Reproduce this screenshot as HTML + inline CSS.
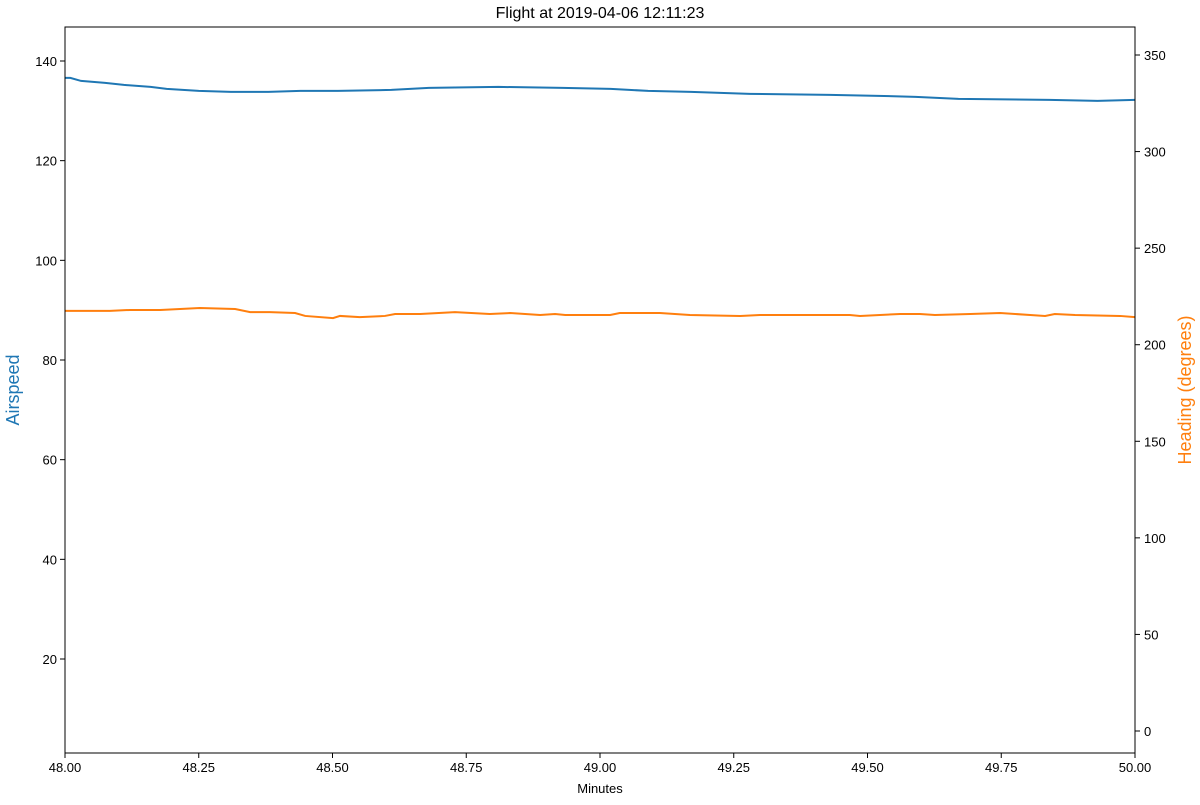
<!DOCTYPE html>
<html><head><meta charset="utf-8"><style>
body{margin:0;background:#fff;font-family:"Liberation Sans",sans-serif}
svg text{font-family:"Liberation Sans",sans-serif}
</style></head><body>
<svg id="chart" width="1200" height="800" xmlns="http://www.w3.org/2000/svg">
<rect width="1200" height="800" fill="#fff"/>
<text x="600" y="18" text-anchor="middle" font-size="16">Flight at 2019-04-06 12:11:23</text>
<g id="grp"></g>
<rect x="65" y="27" width="1070" height="726" fill="none" stroke="#000" stroke-width="1"/>
<text x="600" y="793" text-anchor="middle" font-size="13">Minutes</text>
<text transform="translate(19,390) rotate(-90)" text-anchor="middle" font-size="18" fill="#1f77b4">Airspeed</text>
<text transform="translate(1191,390) rotate(-90)" text-anchor="middle" font-size="18" fill="#ff7f0e">Heading (degrees)</text>
</svg>
<script>
const minutesA=[48.00,48.01,48.03,48.075,48.11,48.16,48.19,48.25,48.31,48.38,48.44,48.51,48.61,48.68,48.81,48.93,49.02,49.09,49.17,49.28,49.43,49.52,49.59,49.67,49.84,49.93,50.00];
const airspeed=[136.6,136.6,136.0,135.6,135.2,134.8,134.4,134.0,133.8,133.8,134.0,134.0,134.2,134.6,134.8,134.6,134.4,134.0,133.8,133.4,133.2,133.0,132.8,132.4,132.2,132.0,132.2];
const minutesH=[48.00,48.084,48.121,48.178,48.252,48.318,48.346,48.383,48.43,48.449,48.501,48.514,48.551,48.598,48.617,48.664,48.729,48.794,48.832,48.888,48.916,48.935,49.019,49.037,49.112,49.168,49.262,49.299,49.374,49.467,49.486,49.561,49.598,49.626,49.692,49.748,49.804,49.832,49.85,49.888,49.972,50.00];
const heading=[217.5,217.5,218.0,218.0,219.0,218.5,216.9,216.9,216.4,214.9,213.8,214.9,214.3,214.9,215.9,215.9,216.9,215.9,216.4,215.4,215.9,215.4,215.4,216.4,216.4,215.4,214.9,215.4,215.4,215.4,214.9,215.9,215.9,215.4,215.9,216.4,215.4,214.9,215.9,215.4,214.9,214.3];
const xTicks=[48.00,48.25,48.50,48.75,49.00,49.25,49.50,49.75,50.00];
const leftTicks=[20,40,60,80,100,120,140];
const rightTicks=[0,50,100,150,200,250,300,350];
const L=65,R=1135,T=27,B=753;
const xs=m=>L+(m-48)/(50-48)*(R-L);
const yL=v=>B-(v-1.14)/(146.82-1.14)*(B-T);
const yR=v=>B-(v+11.39)/(364.5+11.39)*(B-T);
const g=document.getElementById('grp');
const NS='http://www.w3.org/2000/svg';
function mk(t,a){const e=document.createElementNS(NS,t);for(const k in a)e.setAttribute(k,a[k]);g.appendChild(e);return e;}
xTicks.forEach(t=>{const x=xs(t);
 const l=mk('line',{x1:x,x2:x,y1:B,y2:B+5,stroke:'#000'});
 
 
 const s=mk('text',{x:x,y:B+19,'text-anchor':'middle','font-size':13});s.textContent=t.toFixed(2);
 
 });
leftTicks.forEach(t=>{const y=yL(t);
 const l=mk('line',{x1:L-5,x2:L,y1:y,y2:y,stroke:'#000'});
 
 
 const s=mk('text',{x:L-8,y:y+5,'text-anchor':'end','font-size':13});s.textContent=t;
 
 });
rightTicks.forEach(t=>{const y=yR(t);
 const l=mk('line',{x1:R,x2:R+5,y1:y,y2:y,stroke:'#000'});
 
 
 const s=mk('text',{x:R+9,y:y+5,'text-anchor':'start','font-size':13});s.textContent=t;
 
 });
const p1=mk('polyline',{points:minutesA.map((m,i)=>xs(m)+','+yL(airspeed[i])).join(' '),fill:'none',stroke:'#1f77b4','stroke-width':2});


const p2=mk('polyline',{points:minutesH.map((m,i)=>xs(m)+','+yR(heading[i])).join(' '),fill:'none',stroke:'#ff7f0e','stroke-width':2});


</script>
</body></html>
